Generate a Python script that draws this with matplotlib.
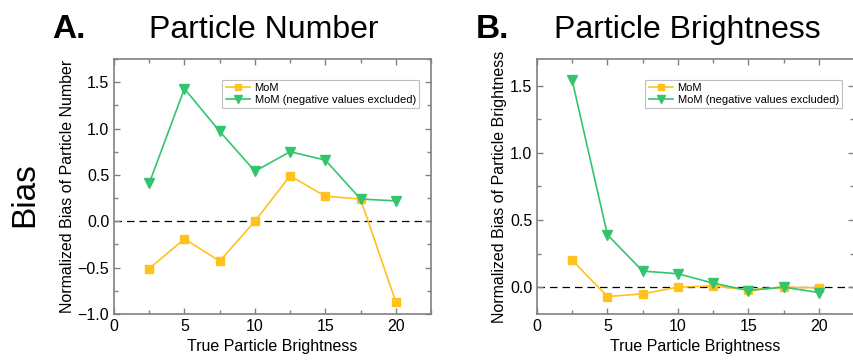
import matplotlib
matplotlib.use('Agg')
import matplotlib.pyplot as plt
from matplotlib.ticker import MultipleLocator

plt.rcParams['font.family'] = ['Liberation Sans', 'DejaVu Sans']

brightness = [2.5, 5, 7.5, 10, 12.5, 15, 17.5, 20]

# panel A: particle number bias
num_mom = [-0.51, -0.19, -0.43, 0.0, 0.49, 0.27, 0.24, -0.87]
num_mom_pos = [0.41, 1.43, 0.97, 0.54, 0.75, 0.66, 0.24, 0.22]

# panel B: particle brightness bias
bri_mom = [0.20, -0.07, -0.05, 0.0, 0.01, -0.02, 0.0, -0.005]
bri_mom_pos = [1.54, 0.39, 0.12, 0.10, 0.03, -0.025, 0.0, -0.04]

orange = '#FFC21C'
green = '#35C46E'
spine_col = '#808080'

fig = plt.figure(figsize=(8.54, 3.63), dpi=100)
axA = fig.add_axes([114/854, 1-314/363, 317/854, 255/363])
axB = fig.add_axes([537/854, 1-314/363, 317/854, 255/363])

def style_axis(ax, ylim, ylabel):
	ax.axhline(0, color='k', lw=0.9, ls=(0, (6, 4)), zorder=1)
	ax.set_xlim(0, 22.5)
	ax.set_ylim(*ylim)
	ax.xaxis.set_major_locator(MultipleLocator(5))
	ax.xaxis.set_minor_locator(MultipleLocator(2.5))
	ax.yaxis.set_major_locator(MultipleLocator(0.5))
	ax.yaxis.set_minor_locator(MultipleLocator(0.25))
	ax.tick_params(which='both', direction='in', top=True, right=True, color=spine_col,
				   labelsize=11.5, width=1)
	ax.tick_params(which='major', length=4)
	ax.tick_params(which='minor', length=3)
	for s in ax.spines.values():
		s.set_color(spine_col)
		s.set_linewidth(1.2)
	ax.set_xlabel('True Particle Brightness', fontsize=11.5, labelpad=4)
	ax.set_ylabel(ylabel, fontsize=11.5, labelpad=2)
	leg = ax.legend(loc='upper right', fontsize=8, frameon=True, fancybox=False,
					borderpad=0.3, handlelength=2.2, handletextpad=0.4, labelspacing=0.15,
					markerscale=0.75, bbox_to_anchor=(0.98, 0.94))
	leg.get_frame().set_edgecolor('#b0b0b0')
	leg.get_frame().set_linewidth(0.8)

for ax, a, b in [(axA, num_mom, num_mom_pos), (axB, bri_mom, bri_mom_pos)]:
	ax.plot(brightness, a, color=orange, marker='s', ms=6, lw=1.2, label='MoM', zorder=3)
	ax.plot(brightness, b, color=green, marker='v', ms=7, lw=1.2,
			label='MoM (negative values excluded)', zorder=3)

style_axis(axA, (-1.0, 1.75), 'Normalized Bias of Particle Number')
style_axis(axB, (-0.2, 1.7), 'Normalized Bias of Particle Brightness')

fig.text(52/854, 1-30/363, 'A.', fontsize=24, fontweight='bold', va='center', ha='left')
fig.text(264/854, 1-30/363, 'Particle Number', fontsize=23, va='center', ha='center')
fig.text(476/854, 1-30/363, 'B.', fontsize=24, fontweight='bold', va='center', ha='left')
fig.text(687/854, 1-30/363, 'Particle Brightness', fontsize=23, va='center', ha='center')
fig.text(25/854, 1-195/363, 'Bias', fontsize=24, rotation=90, va='center', ha='center')

fig.savefig('out.png', dpi=100)
